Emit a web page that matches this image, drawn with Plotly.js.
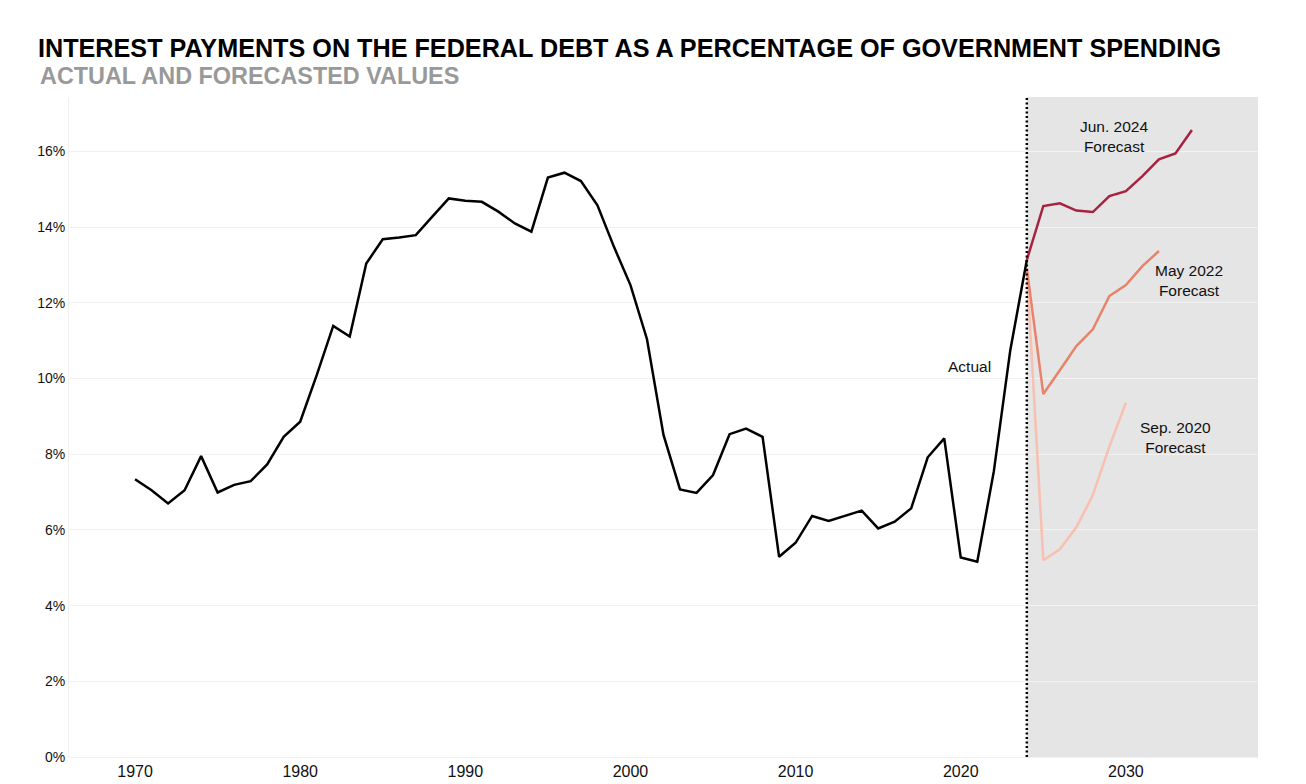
<!DOCTYPE html>
<html>
<head>
<meta charset="utf-8">
<script src="https://cdn.plot.ly/plotly-3.0.1.min.js"></script>
<style>
  html, body { margin: 0; padding: 0; background: #ffffff; }
  #chart { width: 1306px; height: 784px; }
</style>
</head>
<body>
<div id="chart"></div>
<script>
// Interest payments as a share of federal spending (%), actual
const actualYears = [1970,1971,1972,1973,1974,1975,1976,1977,1978,1979,
  1980,1981,1982,1983,1984,1985,1986,1987,1988,1989,
  1990,1991,1992,1993,1994,1995,1996,1997,1998,1999,
  2000,2001,2002,2003,2004,2005,2006,2007,2008,2009,
  2010,2011,2012,2013,2014,2015,2016,2017,2018,2019,
  2020,2021,2022,2023,2024];
const actualValues = [7.34,7.05,6.70,7.05,7.95,6.99,7.19,7.29,7.73,8.46,
  8.86,10.09,11.39,11.11,13.04,13.68,13.73,13.79,14.28,14.76,
  14.70,14.67,14.41,14.10,13.88,15.31,15.44,15.22,14.58,13.48,
  12.47,11.04,8.51,7.07,6.98,7.45,8.53,8.68,8.46,5.29,
  5.66,6.37,6.24,6.38,6.51,6.04,6.22,6.57,7.92,8.42,
  5.27,5.16,7.54,10.75,13.13];

// Forecast vintages
const jun2024Years = [2024,2025,2026,2027,2028,2029,2030,2031,2032,2033,2034];
const jun2024Values = [13.13,14.56,14.63,14.44,14.40,14.82,14.95,15.35,15.79,15.95,16.57];

const may2022Years = [2024,2025,2026,2027,2028,2029,2030,2031,2032];
const may2022Values = [12.91,9.59,10.22,10.86,11.30,12.18,12.47,12.97,13.37];

const sep2020Years = [2024,2025,2026,2027,2028,2029,2030];
const sep2020Values = [12.88,5.20,5.49,6.07,6.92,8.20,9.36];

const yTicks = [0,2,4,6,8,10,12,14,16];
const yTickLabels = ['0%','2%','4%','6%','8%','10%','12%','14%','16%'];
const xTicks = [1970,1980,1990,2000,2010,2020,2030];
const xTickLabels = ['1970','1980','1990','2000','2010','2020','2030'];

const forecastStart = 2024;
const forecastEnd = 2038;

const FONT = 'Liberation Sans, Arial, Helvetica, sans-serif';

const traces = [
  { x: sep2020Years, y: sep2020Values, mode: 'lines', name: 'Sep. 2020 Forecast',
    line: { color: '#f7c0b0', width: 2.5 }, hoverinfo: 'x+y' },
  { x: may2022Years, y: may2022Values, mode: 'lines', name: 'May 2022 Forecast',
    line: { color: '#e8836a', width: 2.5 }, hoverinfo: 'x+y' },
  { x: jun2024Years, y: jun2024Values, mode: 'lines', name: 'Jun. 2024 Forecast',
    line: { color: '#a8223f', width: 2.5 }, hoverinfo: 'x+y' },
  { x: actualYears, y: actualValues, mode: 'lines', name: 'Actual',
    line: { color: '#000000', width: 2.5 }, hoverinfo: 'x+y' }
];

const labelFont = { family: FONT, size: 15.5, color: '#111111' };

const layout = {
  width: 1306,
  height: 784,
  paper_bgcolor: '#ffffff',
  plot_bgcolor: '#ffffff',
  showlegend: false,
  margin: { l: 69, r: 48, t: 97, b: 27, pad: 0 },
  title: {
    text: '<b>INTEREST PAYMENTS ON THE FEDERAL DEBT AS A PERCENTAGE OF GOVERNMENT SPENDING</b>',
    font: { family: FONT, size: 25.2, color: '#000000' },
    xref: 'container', yref: 'container',
    x: 38 / 1306, xanchor: 'left',
    y: 1 - 48 / 784, yanchor: 'middle'
  },
  xaxis: {
    range: [1966, 2038],
    tickmode: 'array',
    tickvals: xTicks,
    ticktext: xTickLabels,
    showgrid: false,
    zeroline: false,
    showline: true,
    linecolor: '#f0f0f0',
    linewidth: 1,
    ticks: '',
    automargin: false,
    tickfont: { family: FONT, size: 16, color: '#111111' }
  },
  yaxis: {
    range: [0, 17.44],
    tickmode: 'array',
    tickvals: yTicks,
    ticktext: yTickLabels,
    showgrid: true,
    gridcolor: '#f2f2f2',
    gridwidth: 1,
    zeroline: false,
    showline: true,
    linecolor: '#f0f0f0',
    linewidth: 1,
    ticks: '',
    automargin: false,
    tickfont: { family: FONT, size: 14, color: '#111111' }
  },
  shapes: [
    { type: 'rect', xref: 'x', yref: 'paper', x0: forecastStart, x1: forecastEnd, y0: 0, y1: 1,
      fillcolor: '#e5e5e5', line: { width: 0 }, layer: 'below' },
    { type: 'line', xref: 'x', yref: 'paper', x0: forecastStart, x1: forecastStart, y0: 0, y1: 1,
      line: { color: '#000000', width: 2.5, dash: '2px,2.5px' }, layer: 'above' }
  ],
  annotations: [
    { xref: 'paper', yref: 'paper', x: (38 - 69) / 1189, y: 1 + (97 - 75.5) / 660,
      xanchor: 'left', yanchor: 'middle', showarrow: false,
      text: '<b>ACTUAL AND FORECASTED VALUES</b>',
      font: { family: FONT, size: 23.4, color: '#999999' } },
    { xref: 'x', yref: 'y', x: 2020.55, y: 10.33, showarrow: false,
      text: 'Actual', font: labelFont, xanchor: 'center', yanchor: 'middle' },
    { xref: 'x', yref: 'y', x: 2029.3, y: 16.39, showarrow: false, align: 'center',
      text: 'Jun. 2024<br>Forecast', font: labelFont, xanchor: 'center', yanchor: 'middle' },
    { xref: 'x', yref: 'y', x: 2033.8, y: 12.59, showarrow: false, align: 'center',
      text: 'May 2022<br>Forecast', font: labelFont, xanchor: 'center', yanchor: 'middle' },
    { xref: 'x', yref: 'y', x: 2033.0, y: 8.45, showarrow: false, align: 'center',
      text: 'Sep. 2020<br>Forecast', font: labelFont, xanchor: 'center', yanchor: 'middle' }
  ]
};

Plotly.newPlot('chart', traces, layout, { displayModeBar: false, staticPlot: true });
</script>
</body>
</html>
